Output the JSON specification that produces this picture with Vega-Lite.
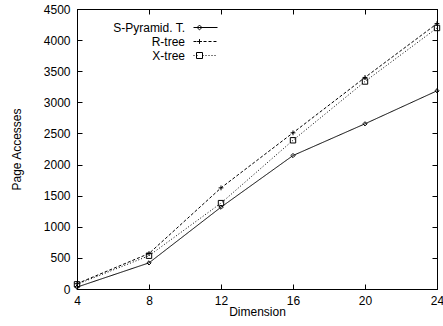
{
  "$schema": "https://vega.github.io/schema/vega-lite/v6.json",
  "width": 360,
  "height": 280,
  "autosize": {"type": "none"},
  "padding": {"left": 77, "top": 9, "right": 6, "bottom": 37},
  "background": "white",
  "data": {"values": [
    {"dim": 4, "pages": 30, "series": "S-Pyramid. T."},
    {"dim": 8, "pages": 420, "series": "S-Pyramid. T."},
    {"dim": 12, "pages": 1315, "series": "S-Pyramid. T."},
    {"dim": 16, "pages": 2145, "series": "S-Pyramid. T."},
    {"dim": 20, "pages": 2655, "series": "S-Pyramid. T."},
    {"dim": 24, "pages": 3185, "series": "S-Pyramid. T."},
    {"dim": 4, "pages": 85, "series": "R-tree"},
    {"dim": 8, "pages": 570, "series": "R-tree"},
    {"dim": 12, "pages": 1625, "series": "R-tree"},
    {"dim": 16, "pages": 2510, "series": "R-tree"},
    {"dim": 20, "pages": 3400, "series": "R-tree"},
    {"dim": 24, "pages": 4265, "series": "R-tree"},
    {"dim": 4, "pages": 75, "series": "X-tree"},
    {"dim": 8, "pages": 535, "series": "X-tree"},
    {"dim": 12, "pages": 1380, "series": "X-tree"},
    {"dim": 16, "pages": 2390, "series": "X-tree"},
    {"dim": 20, "pages": 3335, "series": "X-tree"},
    {"dim": 24, "pages": 4195, "series": "X-tree"}
  ]},
  "config": {
    "font": "Liberation Sans",
    "view": {"stroke": "black", "strokeWidth": 1},
    "axis": {
      "grid": false,
      "domainColor": "black",
      "domainWidth": 1,
      "tickColor": "black",
      "tickWidth": 1,
      "tickSize": -5,
      "labelColor": "black",
      "labelFontSize": 12,
      "titleColor": "black",
      "titleFontSize": 12,
      "titleFontWeight": "normal"
    }
  },
  "layer": [
    {
      "mark": {"type": "line", "color": "black", "strokeWidth": 1},
      "encoding": {
        "x": {"field": "dim", "type": "quantitative", "scale": {"domain": [4, 24], "nice": false},
              "axis": {"orient": "bottom", "values": [4, 8, 12, 16, 20, 24], "title": "Dimension", "labelPadding": 11, "titlePadding": 0, "labelFlush": false}},
        "y": {"field": "pages", "type": "quantitative", "scale": {"domain": [0, 4500], "nice": false},
              "axis": {"orient": "left", "values": [0, 500, 1000, 1500, 2000, 2500, 3000, 3500, 4000, 4500], "format": "d", "title": "Page Accesses", "labelPadding": 12, "titlePadding": 20}},
        "strokeDash": {"field": "series", "type": "nominal",
                       "scale": {"domain": ["S-Pyramid. T.", "R-tree", "X-tree"], "range": [[1, 0], [3, 2], [1, 2]]},
                       "legend": null}
      }
    },
    {
      "mark": {"type": "point", "filled": false, "color": "black", "strokeWidth": 1, "opacity": 1},
      "encoding": {
        "x": {"field": "dim", "type": "quantitative", "axis": null},
        "y": {"field": "pages", "type": "quantitative", "axis": null},
        "size": {"value": 36},
        "shape": {"field": "series", "type": "nominal",
                  "scale": {"domain": ["S-Pyramid. T.", "R-tree", "X-tree"],
                            "range": ["M0,-0.7L0.7,0L0,0.7L-0.7,0Z", "M-0.8,0H0.8M0,-0.8V0.8", "M-0.9,-0.9H0.9V0.9H-0.9Z"]},
                  "legend": null}
      }
    },
    {
      "mark": {"type": "point", "filled": false, "color": "black", "strokeWidth": 1, "opacity": 0},
      "encoding": {
        "x": {"field": "dim", "type": "quantitative",
              "axis": {"orient": "top", "values": [4, 8, 12, 16, 20, 24], "labels": false, "title": null, "domain": true}},
        "y": {"field": "pages", "type": "quantitative",
              "axis": {"orient": "right", "values": [0, 500, 1000, 1500, 2000, 2500, 3000, 3500, 4000, 4500], "labels": false, "title": null, "domain": true}},
        "shape": {"field": "series", "type": "nominal",
                  "scale": {"domain": ["S-Pyramid. T.", "R-tree", "X-tree"],
                            "range": [
                              "M-2,0H2M-1,-0.4L-0.6,0L-1,0.4L-1.4,0Z",
                              "M-2,0H-1.5M-1.17,0H-0.67M-0.33,0H0.17M0.5,0H1M1.33,0H1.83M-1.4,0H-0.6M-1,-0.4V0.4",
                              "M-2,0H-1.83M-1.5,0H-1.33M-0.5,0H-0.33M0,0H0.17M0.5,0H0.67M1,0H1.17M1.5,0H1.67M-1.5,-0.5H-0.5V0.5H-1.5Z"
                            ]},
                  "legend": {
                    "orient": "none", "legendX": 122, "legendY": 12, "title": null, "padding": 0,
                    "labelAlign": "right", "labelOffset": -27, "labelFontSize": 12, "labelColor": "black",
                    "symbolSize": 144, "symbolStrokeWidth": 1, "symbolStrokeColor": "black", "symbolFillColor": "transparent",
                    "symbolOpacity": 1, "rowPadding": 1
                  }}
      }
    }
  ],
  "resolve": {"scale": {"shape": "independent"}, "axis": {"x": "independent", "y": "independent"}}
}
